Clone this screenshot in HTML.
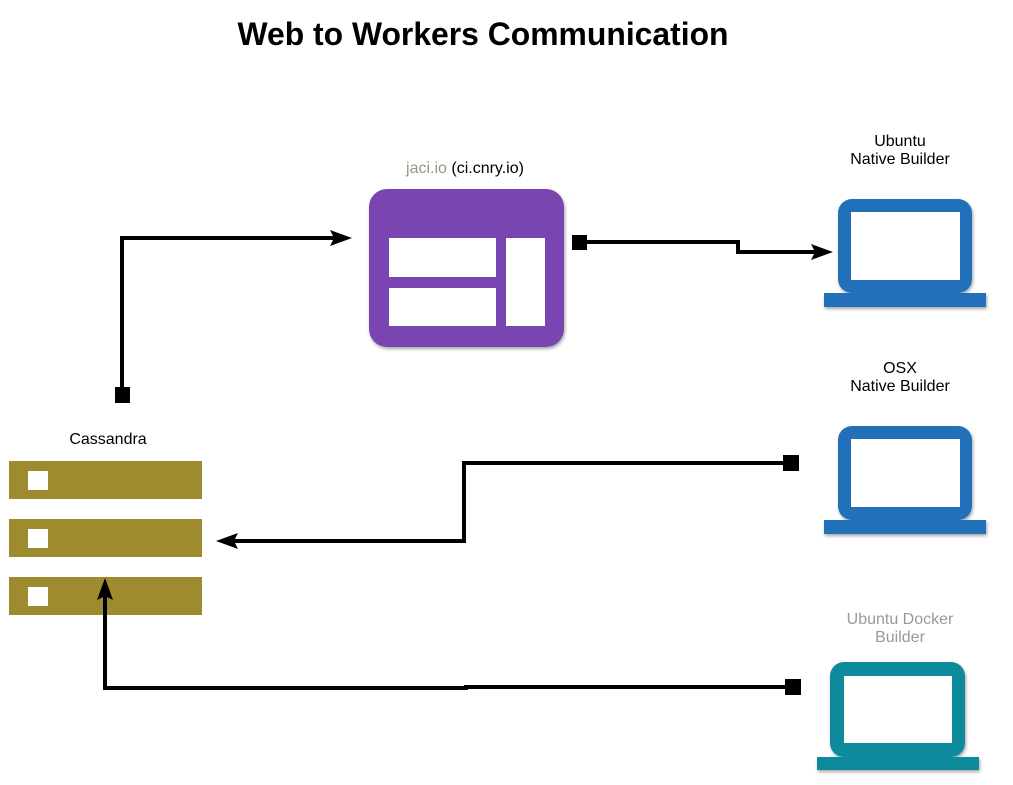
<!DOCTYPE html>
<html><head><style>
html,body{margin:0;padding:0;background:#fff;width:1013px;height:785px;overflow:hidden}
svg text{font-family:"Liberation Sans",sans-serif}
</style></head><body>
<svg width="1013" height="785" viewBox="0 0 1013 785" xmlns="http://www.w3.org/2000/svg">
<defs>
<filter id="sh" x="-10%" y="-10%" width="130%" height="130%"><feDropShadow dx="1" dy="2" stdDeviation="1.5" flood-color="#000" flood-opacity="0.35"/></filter>
</defs>
<text x="483" y="45" font-size="32" font-weight="bold" text-anchor="middle" textLength="491" lengthAdjust="spacingAndGlyphs">Web to Workers Communication</text>

<!-- purple app -->
<text x="465" y="173" font-size="16" text-anchor="middle"><tspan fill="#9a9580">jaci.io</tspan> (ci.cnry.io)</text>
<rect x="369" y="189" width="195" height="158" rx="18" fill="#7845b1" filter="url(#sh)"/>
<rect x="389" y="238" width="107" height="39" fill="#fff"/>
<rect x="389" y="288" width="107" height="38" fill="#fff"/>
<rect x="506" y="238" width="39" height="88" fill="#fff"/>

<!-- laptops -->
<text x="900" y="146" font-size="16" text-anchor="middle">Ubuntu</text>
<text x="900" y="164" font-size="16" text-anchor="middle">Native Builder</text>
<g filter="url(#sh)">
<rect x="838" y="199" width="134" height="94" rx="14" fill="#2170b9"/>
<rect x="824" y="293" width="162" height="14" fill="#2170b9"/>
</g>
<rect x="851" y="212" width="109" height="68" fill="#fff"/>

<text x="900" y="373" font-size="16" text-anchor="middle">OSX</text>
<text x="900" y="391" font-size="16" text-anchor="middle">Native Builder</text>
<g filter="url(#sh)">
<rect x="838" y="426" width="134" height="94" rx="14" fill="#2170b9"/>
<rect x="824" y="520" width="162" height="14" fill="#2170b9"/>
</g>
<rect x="851" y="439" width="109" height="68" fill="#fff"/>

<text x="900" y="624" font-size="16" text-anchor="middle" fill="#999">Ubuntu Docker</text>
<text x="900" y="642" font-size="16" text-anchor="middle" fill="#999">Builder</text>
<g filter="url(#sh)">
<rect x="830" y="662" width="135" height="95" rx="14" fill="#088b9d"/>
<rect x="817" y="757" width="162" height="13" fill="#088b9d"/>
</g>
<rect x="844" y="676" width="108" height="67" fill="#fff"/>

<!-- cassandra -->
<text x="108" y="444" font-size="16" text-anchor="middle">Cassandra</text>
<rect x="9" y="461" width="193" height="38" fill="#9e8a2f"/>
<rect x="9" y="519" width="193" height="38" fill="#9e8a2f"/>
<rect x="9" y="577" width="193" height="38" fill="#9e8a2f"/>
<rect x="28" y="471" width="20" height="19" fill="#fff"/>
<rect x="28" y="529" width="20" height="19" fill="#fff"/>
<rect x="28" y="587" width="20" height="19" fill="#fff"/>

<!-- connectors -->
<g fill="none" stroke="#000" stroke-width="4">
<polyline points="122,390 122,238 340,238"/>
<polyline points="585,242 738,242 738,252 820,252"/>
<polyline points="785,463 464,463 464,541 232,541"/>
<polyline points="787,687 466,687 466,688 105,688 105,595"/>
</g>
<rect x="115" y="387" width="15" height="16" fill="#000"/>
<rect x="572" y="235" width="15" height="15" fill="#000"/>
<rect x="783" y="455" width="16" height="16" fill="#000"/>
<rect x="785" y="679" width="16" height="16" fill="#000"/>
<!-- arrowheads -->
<polygon points="352,238 330,230 334,238 330,246" fill="#000"/>
<polygon points="833,252 811,244 815,252 811,260" fill="#000"/>
<polygon points="216,541 238,533 234,541 238,549" fill="#000"/>
<polygon points="105,578 97,600 105,596 113,600" fill="#000"/>
</svg>
</body></html>
